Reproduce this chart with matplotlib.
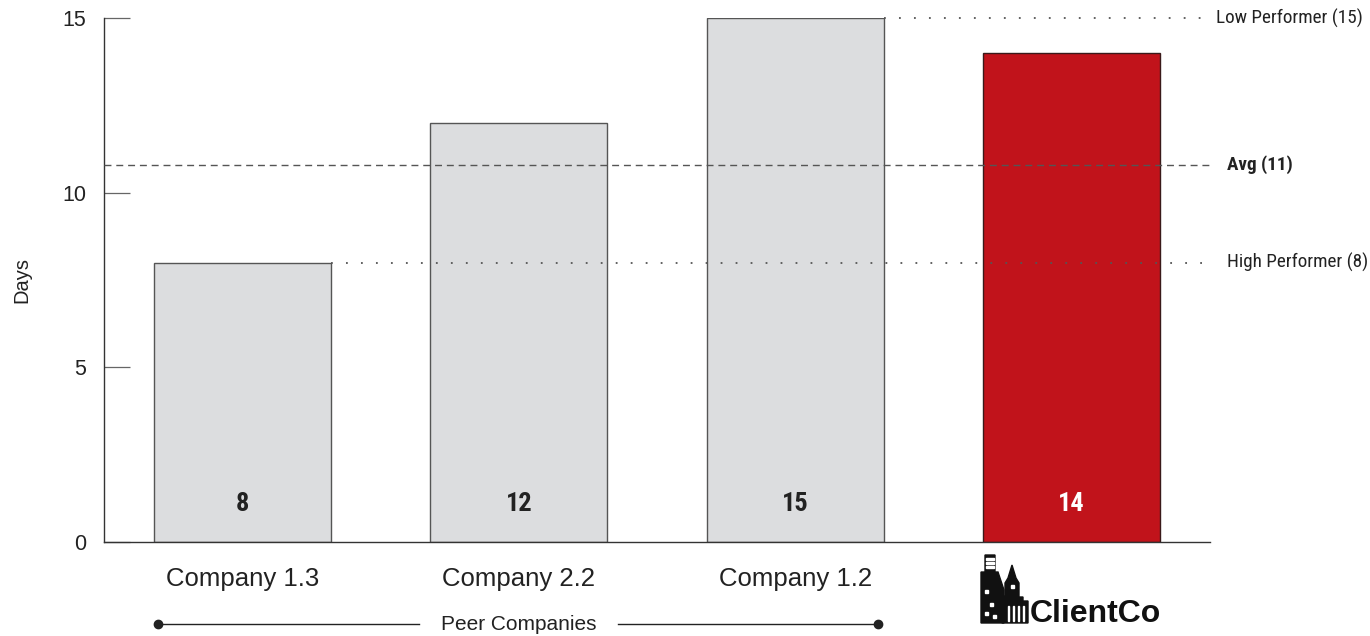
#!/usr/bin/env python3
"""
Days benchmark chart: peers vs ClientCo
"""
import matplotlib
matplotlib.use("Agg")
import matplotlib.pyplot as plt
import matplotlib.transforms as mtransforms
from matplotlib import font_manager
from matplotlib.patches import Polygon

# --- data ---
companies = ["Company 1.3", "Company 2.2", "Company 1.2", "ClientCo"]
days = [8, 12, 15, 14]
bar_colors = ["#dcdddf", "#dcdddf", "#dcdddf", "#c1131b"]
label_colors = ["#222222", "#222222", "#222222", "#ffffff"]
avg_value = 10.8
avg_label = "Avg (11)"
low_value = 15
low_label = "Low Performer (15)"
high_value = 8
high_label = "High Performer (8)"
yticks = [0, 5, 10, 15]

# condensed face if one is around, otherwise plain Liberation Sans (smaller)
installed = {f.name for f in font_manager.fontManager.ttflist}
narrow = None
for cand in ["Liberation Sans Narrow", "Roboto Condensed", "DejaVu Sans Condensed",
             "Open Sans Condensed", "Noto Sans Condensed"]:
    if cand in installed:
        narrow = cand
        break
REG = ["Liberation Sans", "DejaVu Sans"]
if narrow:
    NARROW = [narrow, "DejaVu Sans"]
    side_fs, val_fs = 13.8, 19
else:
    NARROW = REG
    side_fs, val_fs = 12.8, 15

W, H = 1370, 636
fig = plt.figure(figsize=(W / 100, H / 100), dpi=100)
ax = fig.add_axes([104 / W, 1 - 542 / H, (1210 - 104) / W, (542 - 18) / H])

x = list(range(len(companies)))
bw = 0.64
edges = ["#555555", "#555555", "#555555", "#3a1a1a"]
ax.bar(x, days, width=bw, color=bar_colors, edgecolor=edges, linewidth=1.0, zorder=2)

for xi, v, c in zip(x, days, label_colors):
    ax.text(xi, 1.1, str(v), ha="center", va="center", fontsize=val_fs,
            fontweight="bold", color=c, family=NARROW, zorder=4)

ax.set_xlim(-0.5, 3.5)
ax.set_ylim(0, 15)

# reference lines
ax.axhline(avg_value, color="#555555", lw=1.0, dashes=(5, 3.5), zorder=3)
ax.hlines(low_value, 2 + bw / 2, 3.5, color="#555555", lw=1.3,
          linestyles=[(0, (1, 7.3))], zorder=3, clip_on=False)
ax.hlines(high_value, 0 + bw / 2, 3.5, color="#555555", lw=1.3,
          linestyles=[(0, (1, 7.3))], zorder=3, clip_on=False)

ax.annotate(low_label, xy=(3.5, low_value), xytext=(4.3, 0), textcoords="offset points",
            ha="left", va="center", fontsize=side_fs, family=NARROW, color="#222222",
            annotation_clip=False)
ax.annotate(avg_label, xy=(3.5, avg_value), xytext=(12.2, 0), textcoords="offset points",
            ha="left", va="center", fontsize=side_fs, fontweight="bold", family=NARROW,
            color="#222222", annotation_clip=False)
ax.annotate(high_label, xy=(3.5, high_value), xytext=(12.2, 0), textcoords="offset points",
            ha="left", va="center", fontsize=side_fs, family=NARROW, color="#222222",
            annotation_clip=False)

# axes styling
for s in ["top", "right"]:
    ax.spines[s].set_visible(False)
for s in ["left", "bottom"]:
    ax.spines[s].set_color("#333333")
    ax.spines[s].set_linewidth(1.0)

ax.set_yticks(yticks)
ax.set_yticklabels([str(t) for t in yticks], family=REG, fontsize=15.5, color="#222222")
ax.tick_params(axis="y", direction="in", length=18.7, width=0.9, color="#666666", pad=13)
ax.set_ylabel("Days", family=REG, fontsize=14.5, color="#222222", labelpad=22)

ax.set_xticks(x)
ax.set_xticklabels(companies[:3] + [""], family=REG, fontsize=18.5, color="#222222")
ax.tick_params(axis="x", length=0, pad=18)

# peer companies bracket
trans = mtransforms.blended_transform_factory(ax.transData, ax.transAxes)
yb = -0.1565
xl, xr = -0.306, 2.30
ax.plot([xl, 0.64], [yb, yb], color="#222222", lw=1.0, transform=trans, clip_on=False)
ax.plot([1.36, xr], [yb, yb], color="#222222", lw=1.0, transform=trans, clip_on=False)
ax.plot([xl, xr], [yb, yb], "o", color="#222222", ms=6, transform=trans, clip_on=False)
ax.text(1, yb, "Peer Companies", ha="center", va="center", fontsize=15, family=REG,
        color="#222222", transform=trans)

# ClientCo logo (building silhouette + wordmark), pixel coords
def P(px, py):
    return (px / W, 1 - py / H)

def poly(pts, color="#111111"):
    fig.patches.append(Polygon([P(a, b) for a, b in pts], closed=True, color=color,
                               transform=fig.transFigure, figure=fig))

poly([(981, 623), (981, 572), (985, 572), (985, 555), (995, 555), (995, 572),
      (998, 572), (1004, 590), (1004, 623)])
poly([(1002, 623), (1002, 596), (1005, 596), (1005, 583), (1008, 578), (1012, 565),
      (1016, 578), (1019, 583), (1019, 597), (1023, 597), (1023, 601), (1028, 601),
      (1028, 623)])
# window stripes / lights
for yy in [558, 562, 566]:
    poly([(986, yy), (994, yy), (994, yy + 1.5), (986, yy + 1.5)], color="white")
for (wx, wy) in [(985, 590), (990, 603), (985, 612), (993, 615), (1011, 585)]:
    poly([(wx, wy), (wx + 2.5, wy), (wx + 2.5, wy + 2.5), (wx, wy + 2.5)], color="white")
for lx in [1008, 1013, 1018, 1023]:
    poly([(lx, 606), (lx + 1.3, 606), (lx + 1.3, 621), (lx, 621)], color="white")

fig.text(1030 / W, 1 - 622 / H, "ClientCo", ha="left", va="baseline", fontsize=23,
         fontweight="bold", family=REG, color="#111111")

plt.savefig("out.png", dpi=100)
plt.close()
